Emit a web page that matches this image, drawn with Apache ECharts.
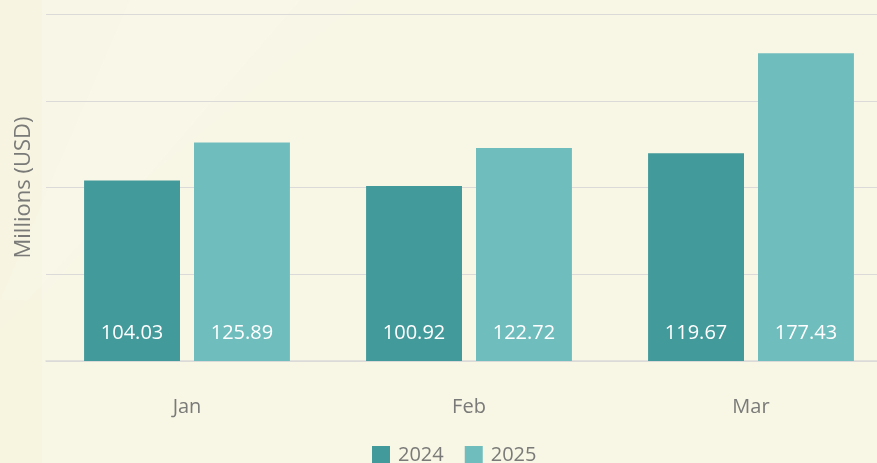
<!DOCTYPE html>
<html>
<head>
<meta charset="utf-8">
<script src="https://cdn.jsdelivr.net/npm/echarts@6/dist/echarts.min.js"></script>
<style>
  html, body { margin: 0; padding: 0; background: #f8f6e5; }
  #chart { width: 877px; height: 463px; }
</style>
</head>
<body>
<div id="chart"></div>
<script>
// Chart data
const months = ['Jan', 'Feb', 'Mar'];
const sales2024 = [104.03, 100.92, 119.67];
const sales2025 = [125.89, 122.72, 177.43];
const seriesNames = ['2024', '2025'];

const theme = {
    colors: {
        y2024: '#439a9b',
        y2025: '#70bdbd',
        background: '#f8f6e5',
        grid: '#dcdad9',
        text: '#7a7a78',
    },
    font: "'Open Sans', sans-serif",
};

const chart = echarts.init(document.getElementById('chart'));

const makeSeries = (name, data, color) => ({
    name,
    type: 'bar',
    data,
    barGap: '14.6%',
    barCategoryGap: '27%',
    itemStyle: { color },
    label: {
        show: true,
        position: 'insideBottom',
        distance: 18,
        color: '#ffffff',
        fontSize: 20,
        fontFamily: theme.font,
        formatter: (p) => p.value.toFixed(2),
    },
    silent: true,
});

chart.setOption({
    backgroundColor: theme.colors.background,
    animation: false,
    textStyle: { fontFamily: theme.font },
    graphic: [
        // faint light streaks in the background
        {
            type: 'polygon',
            z: -10,
            shape: { points: [[0, 0], [360, 0], [120, 200], [0, 330]] },
            style: { fill: 'rgba(255,255,255,0.10)' },
        },
        {
            type: 'polygon',
            z: -10,
            shape: { points: [[130, 0], [300, 0], [40, 300], [0, 300]] },
            style: { fill: 'rgba(255,255,255,0.08)' },
        },
        {
            type: 'rect',
            z: -10,
            shape: { x: 0, y: 0, width: 42, height: 463 },
            style: { fill: 'rgba(244,240,210,0.25)' },
        },
    ],
    legend: {
        data: seriesNames,
        left: 372,
        top: 445,
        padding: 0,
        itemWidth: 18,
        itemHeight: 18,
        itemGap: 21,
        icon: 'rect',
        textStyle: {
            color: theme.colors.text,
            fontSize: 20,
            fontFamily: theme.font,
            padding: [0, 0, 0, 3],
        },
    },
    grid: {
        left: 46,
        width: 846,
        top: 14,
        bottom: 102,
        containLabel: false,
        outerBoundsMode: 'none',
    },
    xAxis: {
        type: 'category',
        data: months,
        axisLine: { show: true, lineStyle: { color: theme.colors.grid, width: 1.5 } },
        axisTick: { show: false },
        axisLabel: {
            color: theme.colors.text,
            fontSize: 20,
            margin: 36,
            fontFamily: theme.font,
        },
    },
    yAxis: {
        type: 'value',
        min: 0,
        max: 200,
        interval: 50,
        name: 'Millions (USD)',
        nameLocation: 'middle',
        nameGap: 11,
        nameTextStyle: {
            color: theme.colors.text,
            fontSize: 22,
            fontFamily: theme.font,
        },
        axisLabel: { show: false },
        axisLine: { show: false },
        axisTick: { show: false },
        splitLine: { lineStyle: { color: theme.colors.grid, width: 1 } },
    },
    series: [
        makeSeries(seriesNames[0], sales2024, theme.colors.y2024),
        makeSeries(seriesNames[1], sales2025, theme.colors.y2025),
    ],
});
</script>
</body>
</html>
